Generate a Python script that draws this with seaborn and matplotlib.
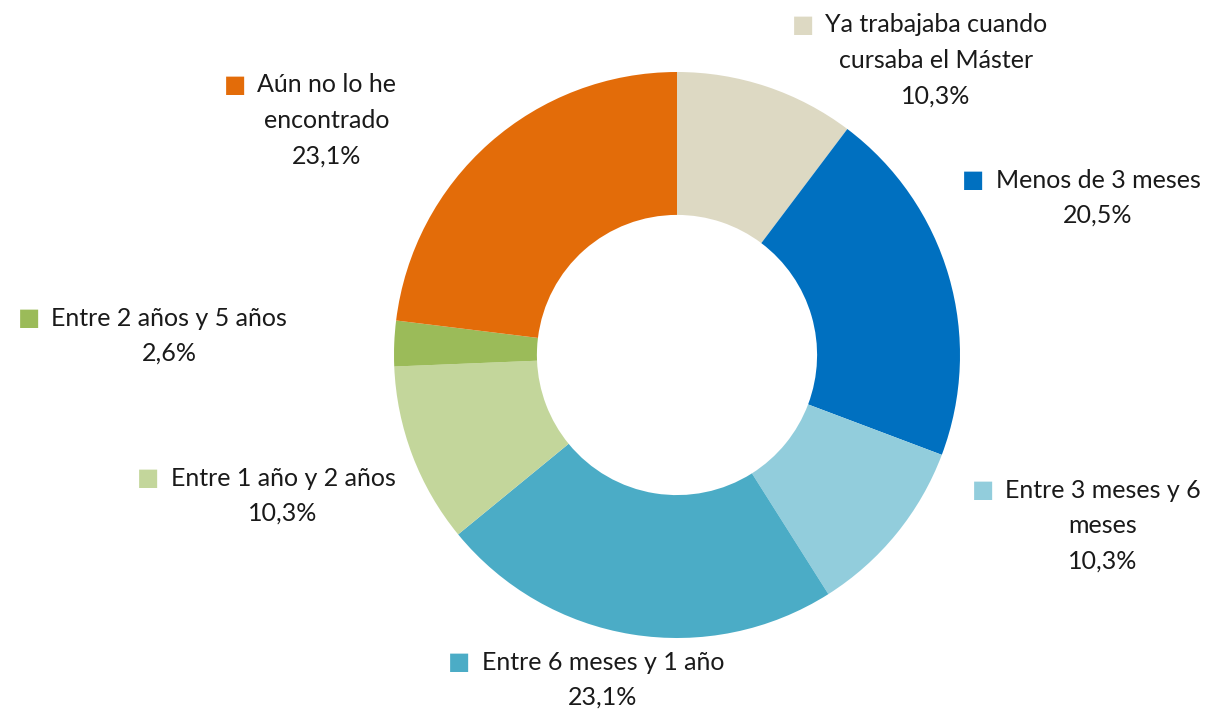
import matplotlib
matplotlib.use('Agg')
import matplotlib.pyplot as plt
import seaborn as sns

# Data
categories = ['Ya trabajaba cuando\ncursaba el Máster', 'Menos de 3 meses',
              'Entre 3 meses y 6\nmeses', 'Entre 6 meses y 1 año',
              'Entre 1 año y 2 años', 'Entre 2 años y 5 años',
              'Aún no lo he\nencontrado']
values = [10.3, 20.5, 10.3, 23.1, 10.3, 2.6, 23.1]
colors = ['#DDD9C3', '#0070C0', '#92CDDC', '#4BACC6', '#C3D69B', '#9BBB59', '#E36C09']

# label block positions (pixel centre of the first line)
label_px = [(936, 25), (1098, 180), (1103, 490), (603, 662),
            (283, 478), (169, 318), (327, 85)]

sns.set_theme(style='white')
plt.rcParams['font.family'] = ['Lato', 'DejaVu Sans']

W, H = 1223, 711
cx, cy, R = 677, 355, 283

fig = plt.figure(figsize=(W / 100, H / 100), dpi=100)
ax = fig.add_axes([0, 0, 1, 1])
ax.pie(values, colors=colors, startangle=90, counterclock=False, radius=1,
       wedgeprops=dict(width=0.505, linewidth=0))
ax.set_xlim(-cx / R, (W - cx) / R)
ax.set_ylim(-(H - cy) / R, cy / R)
ax.axis('off')

line_h = 35.5 / R
for cat, v, c, (px, py) in zip(categories, values, colors, label_px):
    x = (px - cx) / R
    y = (cy - py) / R
    lines = cat.split('\n') + [f'{v:.1f}'.replace('.', ',') + '%']
    first = None
    for i, ln in enumerate(lines):
        t = ax.text(x, y - i * line_h, ln, ha='center', va='center',
                    fontsize=18, color='#1a1a1a')
        if first is None:
            first = t
    ax.annotate('■', xy=(0, 0.5), xycoords=first, xytext=(-8, 0),
                textcoords='offset points', ha='right', va='center',
                fontsize=17, color=c, family='DejaVu Sans')

fig.savefig('out.png', dpi=100)
